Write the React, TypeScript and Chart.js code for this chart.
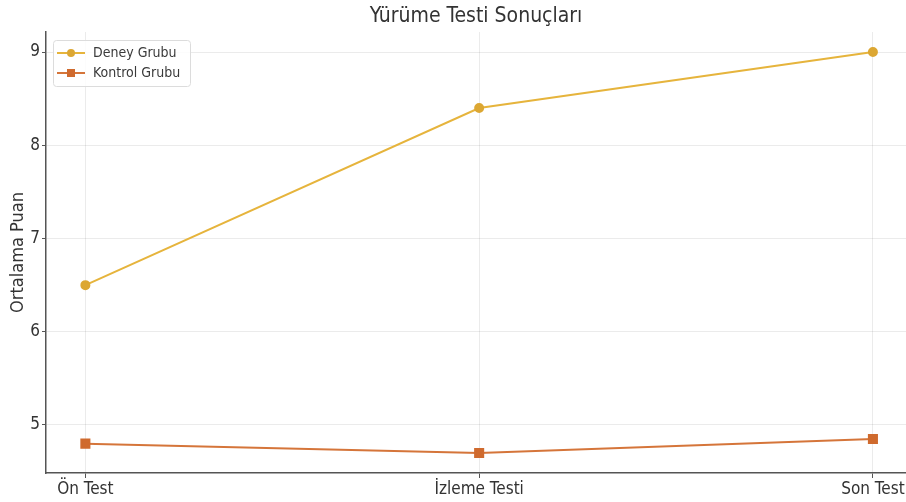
import React, { useEffect, useRef } from 'react';
import { Chart, registerables } from 'chart.js';

Chart.register(...registerables);

const categories = ['Ön Test', 'İzleme Testi', 'Son Test'];
const seriesNames = ['Deney Grubu', 'Kontrol Grubu'];
const deneyValues = [6.5, 8.4, 9.0];
const kontrolValues = [4.8, 4.7, 4.85];
const yTickValues = [5, 6, 7, 8, 9];

const FONT = "'DejaVu Sans Condensed', 'DejaVu Sans', sans-serif";
const DENEY_COLOR = '#E6B43C';
const KONTROL_COLOR = '#D5753A';

const legendPlugin = {
  id: 'customLegend',
  afterDraw(chart: any) {
    const ctx = chart.ctx;
    const x0 = 53, y0 = 40, w = 137, h = 46;
    ctx.save();
    ctx.beginPath();
    if (ctx.roundRect) ctx.roundRect(x0 + 0.5, y0 + 0.5, w, h, 3);
    else ctx.rect(x0 + 0.5, y0 + 0.5, w, h);
    ctx.fillStyle = 'rgba(255,255,255,0.85)';
    ctx.fill();
    ctx.strokeStyle = '#dcdcdc';
    ctx.lineWidth = 1;
    ctx.stroke();
    chart.data.datasets.forEach((ds: any, i: number) => {
      const y = 53 + i * 20;
      ctx.strokeStyle = ds.borderColor;
      ctx.lineWidth = 2;
      ctx.beginPath();
      ctx.moveTo(57, y);
      ctx.lineTo(85, y);
      ctx.stroke();
      ctx.fillStyle = ds.pointBackgroundColor;
      if (ds.pointStyle === 'rect') {
        ctx.fillRect(71 - 4, y - 4, 8, 8);
      } else {
        ctx.beginPath();
        ctx.arc(71, y, 4, 0, Math.PI * 2);
        ctx.fill();
      }
      ctx.fillStyle = '#3a3a3a';
      ctx.font = `14px ${FONT}`;
      ctx.textBaseline = 'middle';
      ctx.textAlign = 'left';
      ctx.fillText(ds.label, 93, y);
    });
    ctx.restore();
  },
};

export default function App() {
  const canvasRef = useRef<HTMLCanvasElement | null>(null);

  useEffect(() => {
    document.body.style.margin = '0';
    const canvas = canvasRef.current;
    if (!canvas) return;
    const chart = new Chart(canvas, {
      type: 'line',
      data: {
        datasets: [
          {
            label: seriesNames[0],
            data: deneyValues.map((v, i) => ({ x: i, y: v })),
            borderColor: DENEY_COLOR,
            backgroundColor: DENEY_COLOR,
            pointBackgroundColor: '#DCA733',
            pointBorderColor: '#DCA733',
            pointStyle: 'circle',
            pointRadius: 4,
            borderWidth: 2,
            tension: 0,
          },
          {
            label: seriesNames[1],
            data: kontrolValues.map((v, i) => ({ x: i, y: v })),
            borderColor: KONTROL_COLOR,
            backgroundColor: KONTROL_COLOR,
            pointBackgroundColor: '#CF6A2E',
            pointBorderColor: '#CF6A2E',
            pointStyle: 'rect',
            pointRadius: 5.7,
            borderWidth: 2,
            tension: 0,
          },
        ],
      },
      options: {
        animation: false,
        responsive: false,
        maintainAspectRatio: false,
        layout: { padding: 0, autoPadding: false },
        plugins: {
          legend: { display: false },
          tooltip: { enabled: false },
          title: {
            display: true,
            text: 'Yürüme Testi Sonuçları',
            color: '#333',
            fullSize: false,
            font: { family: FONT, size: 21, weight: 'normal' },
            padding: { top: 4.4, bottom: 2.4 },
          },
        },
        scales: {
          x: {
            type: 'linear',
            min: -0.1,
            max: 2.084,
            afterFit: (s: any) => {
              s.height = 29;
              s.paddingRight = 0;
              s.paddingLeft = 0;
            },
            ticks: {
              stepSize: 1,
              includeBounds: false,
              autoSkip: false,
              maxRotation: 0,
              padding: 1,
              color: '#333',
              font: { family: FONT, size: 17 },
              callback: (v: any) => (Number.isInteger(v) ? categories[v] ?? '' : ''),
            },
            grid: { color: 'rgba(0,0,0,0.08)', tickColor: '#555', tickLength: 5 },
            border: { color: '#555', width: 1.5 },
          },
          y: {
            type: 'linear',
            min: 4.485,
            max: 9.215,
            afterFit: (s: any) => {
              s.width = 46;
              s.paddingTop = 0;
              s.paddingBottom = 0;
            },
            ticks: {
              stepSize: 1,
              includeBounds: false,
              padding: 2,
              color: '#333',
              font: { family: FONT, size: 17 },
              callback: (v: any) => (yTickValues.includes(v) ? String(v) : ''),
            },
            title: {
              display: true,
              text: 'Ortalama Puan',
              color: '#333',
              font: { family: FONT, size: 18 },
              padding: { top: 8, bottom: 0 },
            },
            grid: { color: 'rgba(0,0,0,0.08)', tickColor: '#555', tickLength: 4 },
            border: { color: '#555', width: 1.5 },
          },
        },
      },
      plugins: [legendPlugin],
    } as any);
    return () => chart.destroy();
  }, []);

  return (
    <div style={{ width: 906, height: 502, background: '#fff' }}>
      <canvas ref={canvasRef} width={906} height={502} style={{ width: 906, height: 502, display: 'block' }} />
    </div>
  );
}
